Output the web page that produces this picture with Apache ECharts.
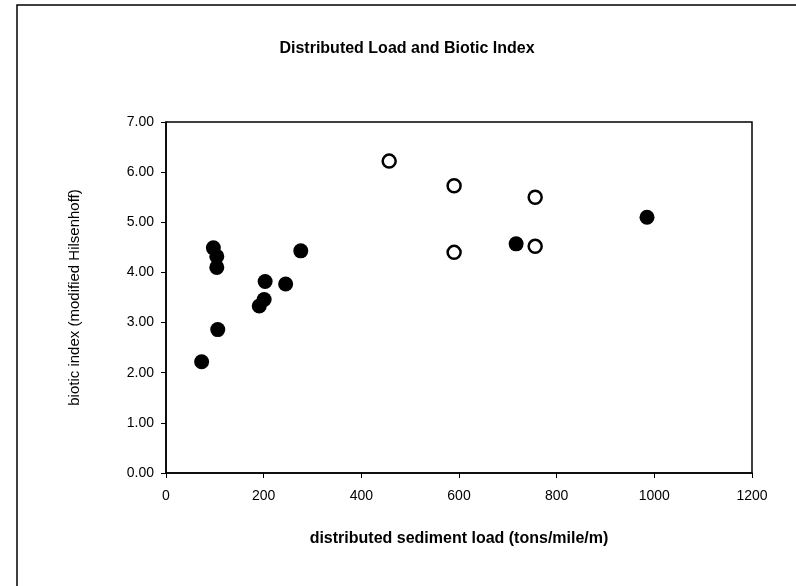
<!DOCTYPE html>
<html>
<head>
<meta charset="utf-8">
<title>Distributed Load and Biotic Index</title>
<script src="https://cdn.jsdelivr.net/npm/echarts@6/dist/echarts.min.js"></script>
<style>
  html, body { margin: 0; padding: 0; background: #fff; }
  #chart { width: 796px; height: 586px; }
</style>
</head>
<body>
<div id="chart"></div>
<script>
// filled circles
const filledLoad = [73, 97, 104, 104, 106, 191, 201, 203, 245, 276, 717, 985];
const filledIndex = [2.22, 4.49, 4.32, 4.10, 2.86, 3.33, 3.46, 3.82, 3.77, 4.43, 4.57, 5.10];
// open circles
const openLoad = [457, 590, 590, 756, 756];
const openIndex = [6.22, 5.73, 4.40, 5.50, 4.52];

const pairs = (xs, ys) => xs.map((x, i) => [x, ys[i]]);
const font = 'Liberation Sans, Arial, sans-serif';

const chart = echarts.init(document.getElementById('chart'));
chart.setOption({
  animation: false,
  backgroundColor: '#fff',
  title: {
    text: 'Distributed Load and Biotic Index',
    left: 402,
    top: 36,
    textAlign: 'center',
    textStyle: { fontFamily: font, fontSize: 16, fontWeight: 'bold', color: '#000' }
  },
  graphic: [{
    type: 'rect',
    shape: { x: 17, y: 5, width: 800, height: 600 },
    style: { fill: 'none', stroke: '#000', lineWidth: 1.5 }
  }],
  grid: {
    left: 166, top: 122, width: 586, height: 351,
    show: true, borderColor: '#000', borderWidth: 1.5
  },
  xAxis: {
    type: 'value',
    min: 0, max: 1200, interval: 200,
    name: 'distributed sediment load (tons/mile/m)',
    nameLocation: 'middle',
    nameGap: 58,
    nameTextStyle: { fontFamily: font, fontSize: 16, fontWeight: 'bold', color: '#000' },
    axisLine: { lineStyle: { color: '#000', width: 1.5 } },
    axisTick: { length: 5, lineStyle: { color: '#000' } },
    axisLabel: { fontFamily: font, fontSize: 14, color: '#000', margin: 16, formatter: v => String(v) },
    splitLine: { show: false }
  },
  yAxis: {
    type: 'value',
    min: 0, max: 7, interval: 1,
    name: 'biotic index (modified Hilsenhoff)',
    nameLocation: 'middle',
    nameGap: 84,
    nameTextStyle: { fontFamily: font, fontSize: 15, color: '#000' },
    axisLine: { show: true, lineStyle: { color: '#000', width: 1.5 } },
    axisTick: { show: true, length: 5, lineStyle: { color: '#000' } },
    axisLabel: { fontFamily: font, fontSize: 14, color: '#000', margin: 12, formatter: v => v.toFixed(2) },
    splitLine: { show: false }
  },
  series: [
    {
      type: 'scatter',
      data: pairs(filledLoad, filledIndex),
      symbol: 'circle',
      symbolSize: 15,
      itemStyle: { color: '#000', opacity: 1 }
    },
    {
      type: 'scatter',
      data: pairs(openLoad, openIndex),
      symbol: 'circle',
      symbolSize: 13,
      itemStyle: { color: '#fff', borderColor: '#000', borderWidth: 2.5, opacity: 1 }
    }
  ]
});
</script>
</body>
</html>
